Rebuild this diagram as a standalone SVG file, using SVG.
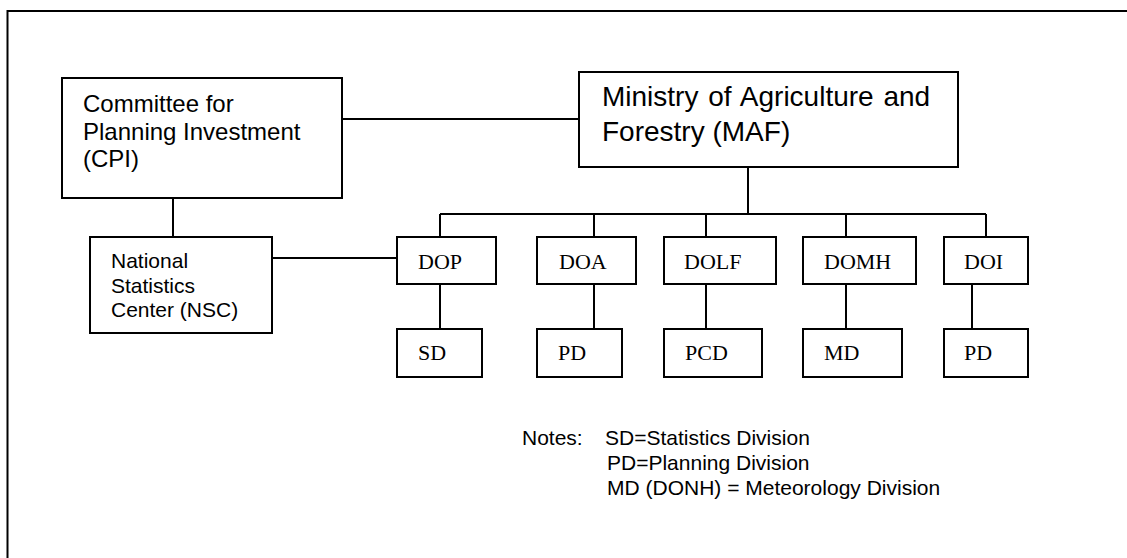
<svg xmlns="http://www.w3.org/2000/svg" width="1127" height="558" viewBox="0 0 1127 558">
<style>
.box{fill:#fff;stroke:#000;stroke-width:2}
.ln{stroke:#000;stroke-width:2;fill:none}
.sans{font-family:"Liberation Sans",Arial,sans-serif;fill:#000}
.serif{font-family:"Liberation Serif","Times New Roman",serif;font-size:22px;fill:#000}
</style>
<rect x="0" y="0" width="1127" height="558" fill="#fff"/>
<g id="frame">
<path class="ln" d="M7.5 558 V11 H1127"/>
</g>
<g id="connectors">
<path class="ln" d="M342 119 H579"/>
<path class="ln" d="M173 198 V237"/>
<path class="ln" d="M272 258 H397"/>
<path class="ln" d="M748 167 V214"/>
<path class="ln" d="M440 214 H986"/>
<path class="ln" d="M440 214 V237"/>
<path class="ln" d="M594 214 V237"/>
<path class="ln" d="M706 214 V237"/>
<path class="ln" d="M846 214 V237"/>
<path class="ln" d="M986 214 V237"/>
<path class="ln" d="M440 284 V329"/>
<path class="ln" d="M594 284 V329"/>
<path class="ln" d="M706 284 V329"/>
<path class="ln" d="M846 284 V329"/>
<path class="ln" d="M972 284 V329"/>
</g>
<g id="cpi">
<rect class="box" x="62" y="78" width="280" height="120"/>
<text class="sans" font-size="24"><tspan x="83" y="112">Committee for</tspan><tspan x="83" y="139.5">Planning Investment</tspan><tspan x="83" y="167">(CPI)</tspan></text>
</g>
<g id="maf">
<rect class="box" x="579" y="72" width="379" height="95"/>
<text class="sans" font-size="28" word-spacing="2"><tspan x="602" y="105.5">Ministry of Agriculture and</tspan><tspan x="602" y="140.5" word-spacing="0">Forestry (MAF)</tspan></text>
</g>
<g id="nsc">
<rect class="box" x="90" y="237" width="182" height="96"/>
<text class="sans" font-size="21"><tspan x="111" y="268">National</tspan><tspan x="111" y="292.5">Statistics</tspan><tspan x="111" y="317">Center (NSC)</tspan></text>
</g>
<g id="dop">
<rect class="box" x="397" y="237" width="99" height="47"/>
<text class="serif" x="418" y="269">DOP</text>
</g>
<g id="doa">
<rect class="box" x="537" y="237" width="99" height="47"/>
<text class="serif" x="559" y="269">DOA</text>
</g>
<g id="dolf">
<rect class="box" x="664" y="237" width="112" height="47"/>
<text class="serif" x="684" y="269">DOLF</text>
</g>
<g id="domh">
<rect class="box" x="803" y="237" width="113" height="47"/>
<text class="serif" x="824" y="269">DOMH</text>
</g>
<g id="doi">
<rect class="box" x="944" y="237" width="84" height="47"/>
<text class="serif" x="964" y="269">DOI</text>
</g>
<g id="sd">
<rect class="box" x="397" y="329" width="85" height="48"/>
<text class="serif" x="418" y="360">SD</text>
</g>
<g id="pd1">
<rect class="box" x="537" y="329" width="85" height="48"/>
<text class="serif" x="558" y="360">PD</text>
</g>
<g id="pcd">
<rect class="box" x="664" y="329" width="98" height="48"/>
<text class="serif" x="685" y="360">PCD</text>
</g>
<g id="md">
<rect class="box" x="803" y="329" width="99" height="48"/>
<text class="serif" x="824" y="360">MD</text>
</g>
<g id="pd2">
<rect class="box" x="944" y="329" width="84" height="48"/>
<text class="serif" x="964" y="360">PD</text>
</g>
<g id="notes">
<text class="sans" font-size="21" x="522" y="445">Notes:</text>
<text class="sans" font-size="21"><tspan x="605" y="445">SD=Statistics Division</tspan><tspan x="607" y="470">PD=Planning Division</tspan><tspan x="607" y="495">MD (DONH) = Meteorology Division</tspan></text>
</g>
</svg>
